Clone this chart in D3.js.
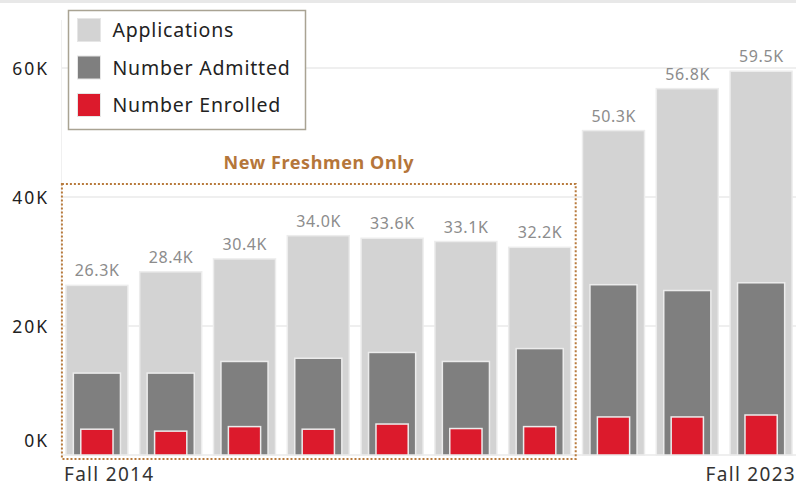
<!DOCTYPE html>
<html>
<head>
<meta charset="utf-8">
<script src="https://cdn.jsdelivr.net/npm/d3@7"></script>
<style>
  body { margin: 0; background: #fff; }
  svg { display: block; font-family: "Noto Sans", "Open Sans", sans-serif; }
</style>
</head>
<body>
<div id="chart"></div>
<script>
// Admissions by fall term
const terms = ["Fall 2014", "Fall 2015", "Fall 2016", "Fall 2017", "Fall 2018",
               "Fall 2019", "Fall 2020", "Fall 2021", "Fall 2022", "Fall 2023"];
const applications = [26300, 28400, 30400, 34000, 33600, 33100, 32200, 50300, 56800, 59500];
const admitted = [12700, 12700, 14500, 15000, 15900, 14500, 16500, 26400, 25500, 26700];
const enrolled = [4000, 3700, 4400, 4000, 4800, 4100, 4400, 5900, 5900, 6200];
const yTicks = [0, 20000, 40000, 60000];
const freshmenOnly = terms.slice(0, 7);

const width = 796, height = 487;
const colors = { app: "#d3d3d3", adm: "#7f7f7f", enr: "#dc1a2c" };

const svg = d3.select("#chart").append("svg")
    .attr("width", width)
    .attr("height", height);

// thin band across the top
svg.append("rect").attr("x", 0).attr("y", 0).attr("width", width).attr("height", 3).attr("fill", "#e8e8e8");

const x = d3.scaleBand(terms, [60, 798]).paddingInner(0.16).paddingOuter(0.08);
const y = d3.scaleLinear([0, 60000], [455, 68]);

// gridlines
svg.append("g")
    .selectAll("line")
    .data(yTicks)
    .join("line")
    .attr("x1", 61).attr("x2", width)
    .attr("y1", d => y(d)).attr("y2", d => y(d))
    .attr("stroke", "#efefef")
    .attr("stroke-width", 2);

svg.append("line")
    .attr("x1", 61.5).attr("x2", 61.5).attr("y1", 20).attr("y2", 456)
    .attr("stroke", "#f0f0f0");

// y tick labels (bottom one nudged up like the original)
svg.append("g")
    .selectAll("text")
    .data(yTicks)
    .join("text")
    .attr("x", 49)
    .attr("y", d => d === 0 ? y(d) - 14 : y(d) + 1)
    .attr("dy", "0.35em")
    .attr("text-anchor", "end")
    .attr("font-size", 17.5)
    .attr("letter-spacing", 2)
    .attr("fill", "#222")
    .text(d => d / 1000 + "K");

const bw = x.bandwidth();
const admW = bw * 0.76, enrW = bw * 0.52;

function bars(cls, data, w, fill) {
    svg.append("g")
        .selectAll("rect")
        .data(data)
        .join("rect")
        .attr("class", cls)
        .attr("x", (d, i) => x(terms[i]) + (bw - w) / 2)
        .attr("y", d => y(d))
        .attr("width", w)
        .attr("height", d => y(0) - y(d))
        .attr("fill", fill)
        .attr("stroke", "#ececec")
        .attr("stroke-width", 1.5);
}
bars("app", applications, bw, colors.app);
bars("adm", admitted, admW, colors.adm);
bars("enr", enrolled, enrW, colors.enr);

// value labels
svg.append("g")
    .selectAll("text")
    .data(applications)
    .join("text")
    .attr("x", (d, i) => x(terms[i]) + bw / 2 + 0.3)
    .attr("y", d => y(d) - 9)
    .attr("text-anchor", "middle")
    .attr("font-size", 16)
    .attr("letter-spacing", 0.6)
    .attr("fill", "#8c8c8c")
    .text(d => (d / 1000).toFixed(1) + "K");

// dotted box around freshmen-only years
const bx0 = x(freshmenOnly[0]) - 4;
const bx1 = x(freshmenOnly[freshmenOnly.length - 1]) + bw + 5;
svg.append("rect")
    .attr("x", bx0).attr("y", 184)
    .attr("width", bx1 - bx0).attr("height", 275)
    .attr("fill", "none")
    .attr("stroke", "#b87a3c")
    .attr("stroke-width", 2)
    .attr("stroke-dasharray", "2,2");

svg.append("text")
    .attr("x", (bx0 + bx1) / 2)
    .attr("y", 169)
    .attr("text-anchor", "middle")
    .attr("font-size", 18)
    .attr("letter-spacing", 0.6)
    .attr("font-weight", "bold")
    .attr("fill", "#b5763a")
    .text("New Freshmen Only");

// x labels: first and last only
svg.append("text")
    .attr("x", 64).attr("y", 481)
    .attr("font-size", 19).attr("letter-spacing", 1.3).attr("fill", "#333")
    .text(terms[0]);
svg.append("text")
    .attr("x", 796).attr("y", 481)
    .attr("text-anchor", "end")
    .attr("font-size", 19).attr("letter-spacing", 1.3).attr("fill", "#333")
    .text(terms[terms.length - 1]);

// legend
const legendItems = [
    { label: "Applications", color: colors.app },
    { label: "Number Admitted", color: colors.adm },
    { label: "Number Enrolled", color: colors.enr }
];
const legend = svg.append("g").attr("transform", "translate(68.5,10.5)");
legend.append("rect")
    .attr("width", 237).attr("height", 119)
    .attr("fill", "#fff")
    .attr("stroke", "#a9a393")
    .attr("stroke-width", 1.5);
const li = legend.selectAll("g")
    .data(legendItems)
    .join("g")
    .attr("transform", (d, i) => `translate(9,${8 + i * 37.5})`);
li.append("rect")
    .attr("width", 23).attr("height", 23)
    .attr("fill", d => d.color)
    .attr("stroke", "#e6e6e6");
li.append("text")
    .attr("x", 35).attr("y", 12)
    .attr("dy", "0.35em")
    .attr("font-size", 19.5)
    .attr("letter-spacing", 0.8)
    .attr("fill", "#222")
    .text(d => d.label);
</script>
</body>
</html>
